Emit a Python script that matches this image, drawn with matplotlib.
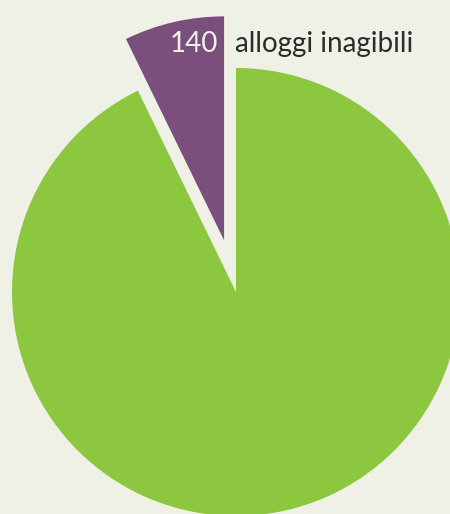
import matplotlib.pyplot as plt



def main():

    # alloggi: inagibili vs resto
    values = [140, 1800]
    colors = ['#7b4f7b', '#8dc63f']
    explode = [53, 0]  # in data units (pixels)
    bg = '#f0f1e6'

    plt.figure(figsize=(4.5, 5.14), dpi=100, facecolor=bg)
    plt.axes([0, 0, 1, 1], facecolor=bg)
    plt.pie(values, colors=colors, explode=explode, startangle=90,
            center=(236, 222), radius=224, wedgeprops={'linewidth': 0})
    plt.xlim([0, 450])
    plt.ylim([0, 514])
    plt.axis('off')
    plt.text(218, 462, '140', color=bg, fontsize=20, family='Lato',
             ha='right', va='baseline')
    plt.text(235, 462, 'alloggi inagibili', color='#2b2b2b', fontsize=20,
             family='Lato', ha='left', va='baseline')

    plt.savefig('out.png', facecolor=bg)

    pass


if __name__ == '__main__':
    main()
